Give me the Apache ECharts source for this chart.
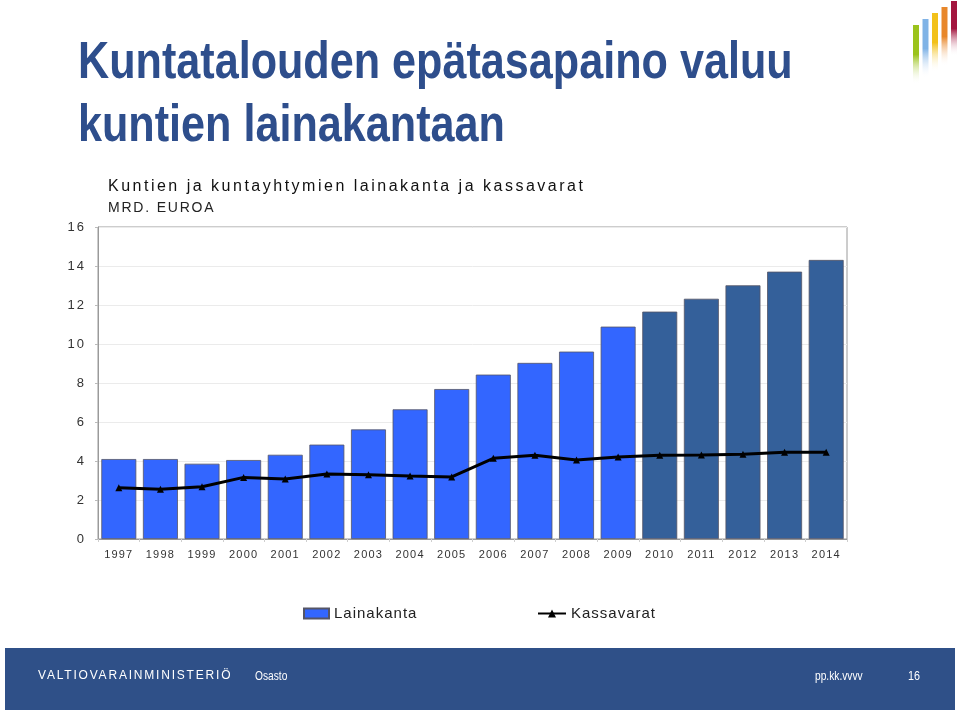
<!DOCTYPE html>
<html>
<head>
<meta charset="utf-8">
<script src="https://cdn.jsdelivr.net/npm/echarts@6/dist/echarts.min.js"></script>
<style>
html,body{margin:0;padding:0;background:#fff;}
#chart{width:960px;height:716px;}
</style>
</head>
<body>
<div id="chart"></div>
<script>
const years = ['1997','1998','1999','2000','2001','2002','2003','2004','2005','2006','2007','2008','2009','2010','2011','2012','2013','2014'];
const lainakanta = [4.10,4.10,3.86,4.05,4.32,4.84,5.62,6.65,7.69,8.43,9.03,9.61,10.89,11.66,12.32,13.01,13.71,14.31];
const kassavarat = [2.63,2.55,2.68,3.16,3.08,3.33,3.30,3.23,3.18,4.14,4.29,4.05,4.21,4.29,4.31,4.34,4.45,4.45];
const forecastYears = ['2010','2011','2012','2013','2014'];
const yTicks = {min:0, max:16, interval:2};

// letter-spaced text: a marker family "ls-N" (N = tenths of px) is read at draw time
(function(){
  const proto = CanvasRenderingContext2D.prototype;
  if (!('letterSpacing' in proto)) return;
  const orig = proto.fillText;
  proto.fillText = function(t, x, y, m){
    const mm = /ls-(\d+)/.exec(this.font || '');
    this.letterSpacing = mm ? (parseInt(mm[1],10)/10) + 'px' : '0px';
    return m === undefined ? orig.call(this, t, x, y) : orig.call(this, t, x, y, m);
  };
})();
const fam = n => '"ls-' + n + '", "Liberation Sans", Arial, sans-serif';

const colActual = '#3366FF';
const colForecast = '#34609A';
const fontMain = '"Liberation Sans", Arial, sans-serif';

const barData = lainakanta.map((v,i)=>({
  value: v,
  itemStyle: {color: forecastYears.includes(years[i]) ? colForecast : colActual}
}));

const logoBars = [
  {x:913, top:25, bottom:84, color:'#9BC31C'},
  {x:922.5, top:19, bottom:78, color:'#80B3E6'},
  {x:932, top:13, bottom:72, color:'#F2C11A'},
  {x:941.5, top:7,  bottom:66, color:'#E8872A'},
  {x:951, top:1,  bottom:56, color:'#A3163F'}
];

const chart = echarts.init(document.getElementById('chart'), null, {renderer:'canvas'});
chart.setOption({
  backgroundColor:'#fff',
  animation:false,
  grid:{left:98, right:113, top:227, bottom:177, show:true, borderColor:'#9a9a9a', borderWidth:1, containLabel:false},
  legend:[
    {left:303, top:606, padding:0, itemWidth:25, itemHeight:10, itemGap:3, icon:'rect', data:['Lainakanta'],
     textStyle:{fontFamily:fam(10), fontSize:15, color:'#222'}},
    {left:537, top:606, padding:0, itemWidth:28, itemHeight:10, itemGap:2, data:['Kassavarat'],
     textStyle:{fontFamily:fam(10), fontSize:15, color:'#222'}}
  ],
  xAxis:{
    type:'category', data:years,
    axisLine:{lineStyle:{color:'#9a9a9a'}},
    axisTick:{show:true, length:3, lineStyle:{color:'#cfcfcf'}},
    axisLabel:{fontFamily:fam(12), fontSize:11, color:'#333', margin:10}
  },
  yAxis:{
    type:'value', min:yTicks.min, max:yTicks.max, interval:yTicks.interval,
    axisLine:{show:true, lineStyle:{color:'#9a9a9a'}},
    axisTick:{show:true, length:3, lineStyle:{color:'#bbb'}},
    splitLine:{lineStyle:{color:'#ebebeb'}},
    axisLabel:{fontFamily:fam(20), fontSize:13, color:'#333', margin:12}
  },
  series:[
    {name:'Lainakanta', type:'bar', data:barData, barCategoryGap:'16%',
     itemStyle:{color:colActual, borderColor:'#556', borderWidth:0.8}},
    {name:'Kassavarat', type:'line', data:kassavarat, symbol:'triangle', symbolSize:7,
     itemStyle:{color:'#000'}, lineStyle:{color:'#000', width:3}, z:5}
  ],
  graphic:[
    {type:'text', x:78, y:38, scaleX:0.83, style:{text:'Kuntatalouden epätasapaino valuu', font:'bold 52px '+fontMain, fill:'#2E4E8C'}},
    {type:'text', x:78, y:101, scaleX:0.83, style:{text:'kuntien lainakantaan', font:'bold 52px '+fontMain, fill:'#2E4E8C'}},
    {type:'text', x:108, y:179, style:{text:'Kuntien ja kuntayhtymien lainakanta ja kassavarat', font:'16px '+fam(25), fill:'#111'}},
    {type:'text', x:108, y:201, style:{text:'MRD. EUROA', font:'14px '+fam(18), fill:'#222'}},
    {type:'rect', shape:{x:5, y:648, width:950, height:62}, style:{fill:'#2F5088'}},
    {type:'text', x:38, y:670, style:{text:'VALTIOVARAINMINISTERIÖ', font:'12px '+fam(18), fill:'#fff'}},
    {type:'text', x:255, y:671, scaleX:0.85, style:{text:'Osasto', font:'12px '+fontMain, fill:'#fff'}},
    {type:'text', x:815, y:671, scaleX:0.85, style:{text:'pp.kk.vvvv', font:'12px '+fontMain, fill:'#fff'}},
    {type:'text', x:908, y:671, scaleX:0.9, style:{text:'16', font:'12px '+fontMain, fill:'#fff'}}
  ].concat(logoBars.map(b=>({
    type:'rect', shape:{x:b.x, y:b.top, width:6, height:b.bottom-b.top},
    style:{fill:new echarts.graphic.LinearGradient(0,0,0,1,[{offset:0,color:b.color},{offset:0.5,color:b.color},{offset:1,color:'rgba(255,255,255,0)'}])}
  })))
});
</script>
</body>
</html>
